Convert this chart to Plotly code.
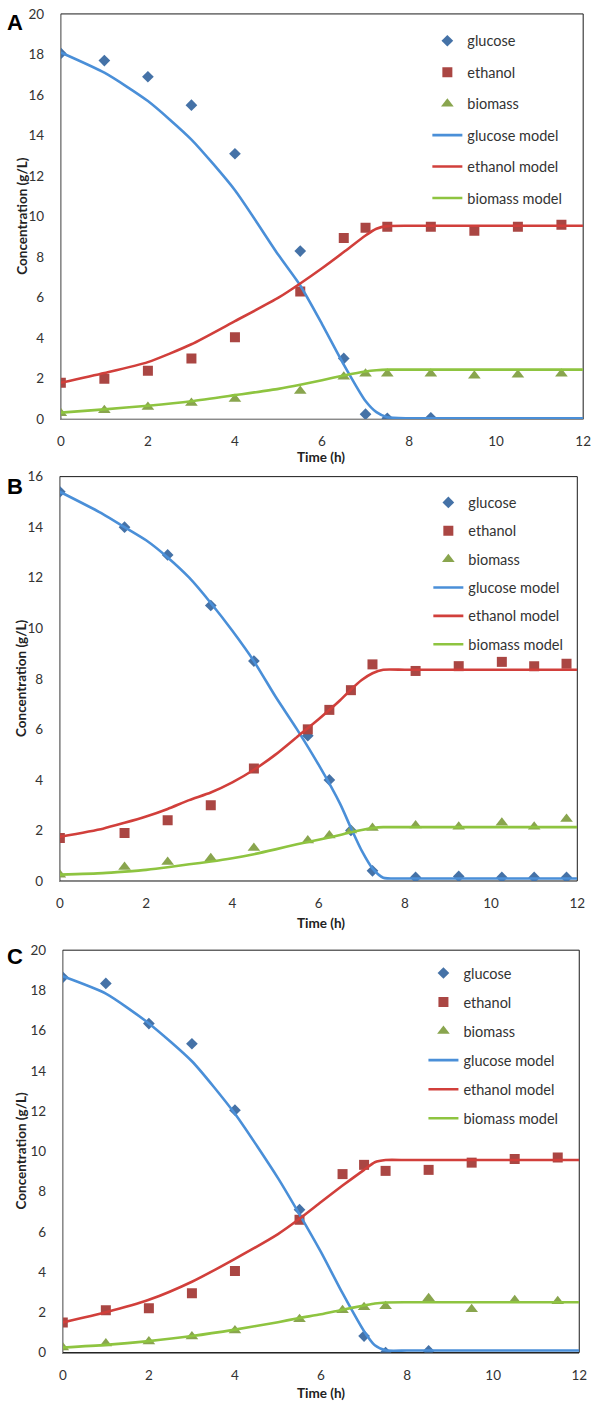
import plotly.graph_objects as go

# ---------------- data ----------------
# Panel A
tA_glc = [0, 1, 2, 3, 4, 5.5, 6.5, 7, 7.5, 8.5]
glucoseA = [18.05, 17.7, 16.9, 15.5, 13.1, 8.3, 3.0, 0.25, 0.05, 0.07]
tA = [0, 1, 2, 3, 4, 5.5, 6.5, 7, 7.5, 8.5, 9.5, 10.5, 11.5]
ethanolA = [1.8, 2.0, 2.4, 3.0, 4.05, 6.3, 8.95, 9.45, 9.5, 9.5, 9.3, 9.5, 9.6]
biomassA = [0.3, 0.45, 0.6, 0.8, 1.0, 1.4, 2.1, 2.25, 2.25, 2.25, 2.15, 2.2, 2.25]
tA_mod = [0, 1, 2, 3, 4, 5, 5.5, 6, 6.5, 7, 7.25, 7.5, 8, 9, 10, 11, 12]
glucoseA_mod = [18.1, 17.1, 15.7, 13.8, 11.3, 8.1, 6.6, 4.7, 2.7, 0.9, 0.35, 0.1, 0.05, 0.05, 0.05, 0.05, 0.05]
ethanolA_mod = [1.8, 2.28, 2.82, 3.7, 4.84, 6.0, 6.7, 7.45, 8.25, 9.07, 9.4, 9.53, 9.55, 9.55, 9.55, 9.55, 9.55]
biomassA_mod = [0.33, 0.49, 0.67, 0.89, 1.19, 1.5, 1.7, 1.93, 2.16, 2.36, 2.42, 2.45, 2.45, 2.45, 2.45, 2.45, 2.45]

# Panel B
tB = [0, 1.5, 2.5, 3.5, 4.5, 5.75, 6.25, 6.75, 7.25, 8.25, 9.25, 10.25, 11, 11.75]
glucoseB = [15.4, 14.0, 12.9, 10.9, 8.7, 5.75, 4.0, 2.0, 0.4, 0.14, 0.18, 0.14, 0.14, 0.14]
ethanolB = [1.7, 1.9, 2.4, 3.0, 4.45, 6.0, 6.77, 7.55, 8.57, 8.31, 8.5, 8.67, 8.5, 8.6]
biomassB = [0.25, 0.55, 0.75, 0.9, 1.3, 1.6, 1.8, 2.0, 2.1, 2.2, 2.15, 2.3, 2.15, 2.45]
tB_mod = [0, 1, 1.5, 2, 2.5, 3, 3.5, 4, 4.5, 5, 5.5, 6, 6.5, 6.75, 7, 7.25, 7.5, 8, 9, 10, 11, 12]
glucoseB_mod = [15.4, 14.52, 14.0, 13.48, 12.8, 12.0, 11.0, 9.9, 8.7, 7.3, 6.0, 4.6, 3.05, 2.1, 1.2, 0.5,
                0.13, 0.1, 0.1, 0.1, 0.1, 0.1]
ethanolB_mod = [1.75, 2.07, 2.3, 2.55, 2.85, 3.2, 3.5, 3.9, 4.4, 5.0, 5.7, 6.4, 7.15, 7.57, 7.95, 8.22,
                8.36, 8.36, 8.36, 8.36, 8.36, 8.36]
biomassB_mod = [0.25, 0.31, 0.37, 0.44, 0.54, 0.66, 0.77, 0.9, 1.06, 1.25, 1.45, 1.63, 1.82, 1.93, 2.02, 2.09,
                2.13, 2.13, 2.13, 2.13, 2.13, 2.13]

# Panel C
tC_glc = [0, 1, 2, 3, 4, 5.5, 7, 7.5, 8.5]
glucoseC = [18.65, 18.35, 16.35, 15.35, 12.05, 7.1, 0.82, 0.0, 0.08]
tC = [0, 1, 2, 3, 4, 5.5, 6.5, 7, 7.5, 8.5, 9.5, 10.5, 11.5]
ethanolC = [1.5, 2.1, 2.2, 2.95, 4.05, 6.6, 8.87, 9.33, 9.03, 9.08, 9.44, 9.62, 9.69]
biomassC = [0.25, 0.45, 0.55, 0.8, 1.1, 1.65, 2.1, 2.25, 2.3, 2.7, 2.15, 2.6, 2.55]
tC_mod = [0, 1, 2, 3, 4, 5, 5.5, 6, 6.5, 7, 7.25, 7.5, 8, 9, 10, 11, 12]
glucoseC_mod = [18.7, 17.84, 16.36, 14.48, 11.87, 8.67, 6.87, 4.99, 2.95, 1.06, 0.36, 0.11, 0.1, 0.1, 0.1, 0.1, 0.1]
ethanolC_mod = [1.5, 2.0, 2.62, 3.52, 4.66, 5.89, 6.65, 7.48, 8.3, 9.08, 9.46, 9.57, 9.57, 9.57, 9.57, 9.57, 9.57]
biomassC_mod = [0.25, 0.38, 0.57, 0.82, 1.14, 1.51, 1.72, 1.9, 2.13, 2.34, 2.44, 2.49, 2.5, 2.5, 2.5, 2.5, 2.5]

series_names = ["glucose", "ethanol", "biomass"]
panel_letters = ["A", "B", "C"]
x_ticks = [0, 2, 4, 6, 8, 10, 12]
x_title = "Time (h)"
y_title = "Concentration (g/L)"

# ---------------- style ----------------
W, H = 600, 1409
FONT = "Lato"
marker_colors = ["#4572A7", "#AA4643", "#89A54E"]
line_colors = ["#4A8FD8", "#D13F3B", "#8EC440"]
symbols = ["diamond", "square", "triangle-up"]
marker_sizes = [9, 10, 11]

# pixel geometry of each panel
panels = [
    dict(l=58, r=591, t=6, b=416, ymax=20, legend_top=17, gap=9.6, leg_x=432, xt_y=454, letter_y=14.5),
    dict(l=57, r=585, t=474, b=883, ymax=16, legend_top=484, gap=6.5, leg_x=433, xt_y=926, letter_y=483.5),
    dict(l=60, r=587, t=953, b=1360, ymax=20, legend_top=960, gap=7.2, leg_x=428, xt_y=1401, letter_y=959),
]

data_sets = [
    (tA_glc, glucoseA, tA, ethanolA, biomassA, tA_mod, glucoseA_mod, ethanolA_mod, biomassA_mod),
    (tB, glucoseB, tB, ethanolB, biomassB, tB_mod, glucoseB_mod, ethanolB_mod, biomassB_mod),
    (tC_glc, glucoseC, tC, ethanolC, biomassC, tC_mod, glucoseC_mod, ethanolC_mod, biomassC_mod),
]

fig = go.Figure()
layout = dict(
    width=W, height=H, margin=dict(l=0, r=0, t=0, b=0),
    paper_bgcolor="white", plot_bgcolor="white",
    font=dict(family=FONT, size=13, color="#222"),
    showlegend=True,
)
annotations = []
shapes = []

for i, (p, ds) in enumerate(zip(panels, data_sets)):
    sfx = "" if i == 0 else str(i + 1)
    xa, ya = "x" + sfx, "y" + sfx
    leg = "legend" + sfx
    tg, g, te, e, b, tm, gm, em, bm = ds
    pts = [(tg, g), (te, e), (te, b)]
    mods = [gm, em, bm]
    for k in range(3):
        fig.add_trace(go.Scatter(
            x=pts[k][0], y=pts[k][1], mode="markers", name=series_names[k],
            marker=dict(symbol=symbols[k], size=marker_sizes[k], color=marker_colors[k], line=dict(width=0)),
            xaxis=xa, yaxis=ya, legend=leg, legendgroup=f"{i}m{k}",
        ))
    for k in range(3):
        fig.add_trace(go.Scatter(
            x=tm, y=mods[k], mode="lines", name=series_names[k] + " model",
            line=dict(color=line_colors[k], width=2.6, shape="spline", smoothing=0.6),
            xaxis=xa, yaxis=ya, legend=leg, legendgroup=f"{i}l{k}",
        ))
    xdom = [p["l"] / W, p["r"] / W]
    ydom = [1 - p["b"] / H, 1 - p["t"] / H]
    layout["xaxis" + sfx] = dict(
        domain=xdom, anchor=ya, range=[0, 12], tickvals=x_ticks, showgrid=False, zeroline=False,
        showline=True, linecolor="#8a8a8a", linewidth=1, ticks="outside", ticklen=10,
        tickcolor="rgba(0,0,0,0)", tickfont=dict(family=FONT, size=13.5, color="#333"),
    )
    layout["yaxis" + sfx] = dict(
        domain=ydom, anchor=xa, range=[0, p["ymax"]], dtick=2, showgrid=False, zeroline=False,
        showline=True, linecolor="#8a8a8a", linewidth=1, ticks="outside", ticklen=13,
        tickcolor="rgba(0,0,0,0)", tickfont=dict(family=FONT, size=13.5, color="#333"),
    )
    layout[leg] = dict(
        x=p["leg_x"] / W, xanchor="left", y=1 - p["legend_top"] / H, yanchor="top",
        bgcolor="rgba(255,255,255,0)", borderwidth=0, traceorder="grouped",
        tracegroupgap=p["gap"], font=dict(family=FONT, size=14.5, color="#333"),
        itemwidth=30,
    )
    shapes.append(dict(type="rect", xref=xa + " domain", yref=ya + " domain", x0=0, x1=1, y0=0, y1=1,
                       line=dict(color="#1a1a1a", width=1), layer="below"))
    annotations.append(dict(text="<b>" + panel_letters[i] + "</b>", xref="paper", yref="paper",
                            x=1 / W, y=1 - p["letter_y"] / H, xanchor="left", yanchor="middle",
                            showarrow=False, font=dict(family="Liberation Sans", size=22, color="black")))
    annotations.append(dict(text="<b>" + x_title + "</b>", xref="paper", yref="paper",
                            x=323 / W, y=1 - p["xt_y"] / H, xanchor="center", yanchor="middle",
                            showarrow=False, font=dict(family=FONT, size=13.5, color="#222")))
    annotations.append(dict(text="<b>" + y_title + "</b>", xref="paper", yref="paper",
                            x=17.5 / W, y=1 - ((p["t"] + p["b"]) / 2) / H, xanchor="center", yanchor="middle",
                            textangle=-90, showarrow=False, font=dict(family=FONT, size=13.5, color="#222")))

layout["annotations"] = annotations
layout["shapes"] = shapes
fig.update_layout(**layout)
fig.write_html(
    "out.html",
    config={"displayModeBar": False},
    post_script="document.body.style.margin='0';document.body.style.padding='0';"
                "document.body.style.overflow='hidden';",
)
